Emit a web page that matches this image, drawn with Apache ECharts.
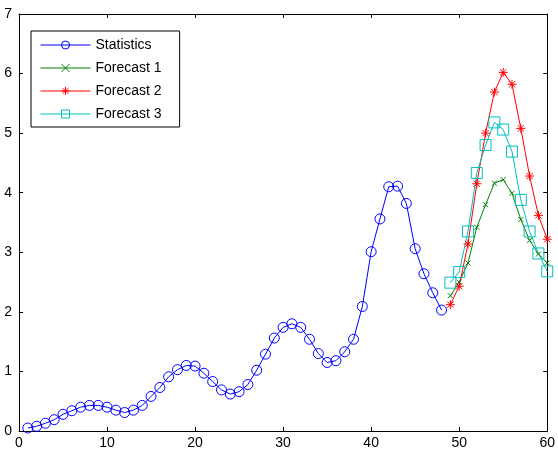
<!DOCTYPE html>
<html>
<head>
<meta charset="utf-8">
<script src="https://cdn.jsdelivr.net/npm/echarts@6/dist/echarts.min.js"></script>
<style>
  html, body { margin: 0; padding: 0; background: #fff; }
  #chart { width: 558px; height: 453px; }
</style>
</head>
<body>
<div id="chart"></div>
<script>
// observed data, x = 1..48
var statX = [1, 2, 3, 4, 5, 6, 7, 8, 9, 10, 11, 12, 13, 14, 15, 16, 17, 18, 19, 20,
  21, 22, 23, 24, 25, 26, 27, 28, 29, 30, 31, 32, 33, 34, 35, 36, 37, 38, 39, 40,
  41, 42, 43, 44, 45, 46, 47, 48];
var statistics = [0.05, 0.08, 0.13, 0.19, 0.28, 0.34, 0.40, 0.43, 0.43, 0.40,
  0.35, 0.31, 0.35, 0.43, 0.58, 0.73, 0.91, 1.03, 1.10, 1.09,
  0.97, 0.83, 0.69, 0.62, 0.66, 0.78, 1.02, 1.29, 1.56, 1.74,
  1.80, 1.74, 1.54, 1.30, 1.15, 1.18, 1.33, 1.54, 2.09, 3.01,
  3.56, 4.10, 4.11, 3.82, 3.06, 2.64, 2.32, 2.03];

// forecasts, x = 49..60
var forecastX = [49, 50, 51, 52, 53, 54, 55, 56, 57, 58, 59, 60];
var forecast1 = [2.27, 2.50, 2.82, 3.42, 3.80, 4.16, 4.22, 3.99, 3.55, 3.20, 2.97, 2.82];
var forecast2 = [2.12, 2.43, 3.14, 4.15, 5.00, 5.69, 6.02, 5.82, 5.08, 4.28, 3.62, 3.22];
var forecast3 = [2.49, 2.67, 3.35, 4.33, 4.80, 5.18, 5.06, 4.69, 3.88, 3.35, 2.98, 2.68];

var seriesNames = ["Statistics", "Forecast 1", "Forecast 2", "Forecast 3"];

function pairs(xs, ys) {
  return xs.map(function (x, i) { return [x, ys[i]]; });
}

var chart = echarts.init(document.getElementById("chart"));

var font = "Arial, 'Liberation Sans', sans-serif";

// MATLAB-like box axes
function boxAxis(pos, isX, labels) {
  return {
    type: "value",
    position: pos,
    min: 0,
    max: isX ? 60 : 7,
    interval: isX ? 10 : 1,
    axisLine: { show: true, onZero: false, lineStyle: { color: "#000", width: 1 } },
    axisTick: { show: true, inside: true, length: 4, lineStyle: { color: "#000" } },
    axisLabel: {
      show: labels,
      color: "#000",
      fontSize: 14,
      fontFamily: font,
      margin: isX ? 5 : 7
    },
    splitLine: { show: false }
  };
}

function lineSeries(name, xs, ys, color, symbol, size) {
  return {
    name: name,
    type: "line",
    data: pairs(xs, ys),
    symbol: symbol,
    symbolSize: size,
    showAllSymbol: true,
    lineStyle: { color: color, width: 1 },
    itemStyle: { color: "rgba(0,0,0,0)", borderColor: color, borderWidth: 1 },
    emphasis: { disabled: true },
    animation: false,
    z: 3
  };
}

var xMark = "path://M0 0L10 10M10 0L0 10";
var starMark = "path://M5 0L5 10M0 5L10 5M1.5 1.5L8.5 8.5M8.5 1.5L1.5 8.5";

var option = {
  backgroundColor: "#fff",
  animation: false,
  grid: { left: 19, right: 10, top: 14, bottom: 22, containLabel: false },
  xAxis: [boxAxis("bottom", true, true), boxAxis("top", true, false)],
  yAxis: [boxAxis("left", false, true), boxAxis("right", false, false)],
  legend: {
    orient: "vertical",
    left: 31,
    top: 31,
    padding: [7, 18, 6, 9],
    itemWidth: 50,
    itemHeight: 10,
    itemGap: 9,
    backgroundColor: "#fff",
    borderColor: "#000",
    borderWidth: 1,
    borderRadius: 0,
    selectedMode: false,
    lineStyle: { width: 1 },
    itemStyle: { borderWidth: 1 },
    textStyle: { color: "#000", fontSize: 14, fontFamily: font },
    data: seriesNames
  },
  series: [
    lineSeries(seriesNames[0], statX, statistics, "#0000ff", "circle", 10),
    lineSeries(seriesNames[1], forecastX, forecast1, "#008000", xMark, 5),
    lineSeries(seriesNames[2], forecastX, forecast2, "#ff0000", starMark, 9),
    lineSeries(seriesNames[3], forecastX, forecast3, "#00bfbf", "rect", 11)
  ]
};

chart.setOption(option);
</script>
</body>
</html>
